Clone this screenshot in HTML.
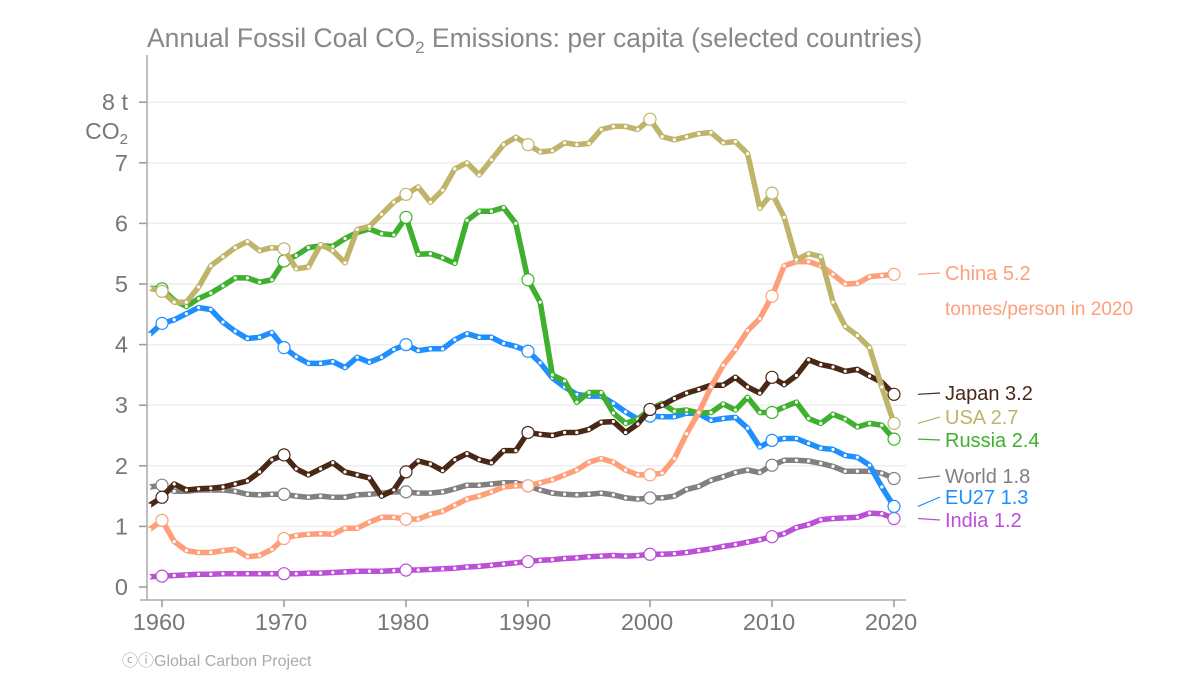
<!DOCTYPE html>
<html><head><meta charset="utf-8"><style>
body{margin:0;background:#fff;width:1200px;height:675px;overflow:hidden;font-family:"Liberation Sans",sans-serif}
</style></head><body>
<svg id="chart" width="1200" height="675" viewBox="0 0 1200 675" xmlns="http://www.w3.org/2000/svg" font-family="Liberation Sans, sans-serif">
<text x="147" y="47" font-size="26.5" fill="#888">Annual Fossil Coal CO<tspan font-size="17" dy="6">2</tspan><tspan dy="-6"> Emissions: per capita (selected countries)</tspan></text>
<g id="grid"></g>
<g id="axes"></g>
<g id="series"></g>
<g id="labels"></g>
<text x="122" y="666" font-size="16" fill="#aaa">ⓒⓘGlobal Carbon Project</text>
</svg>
<script>
const startYear = 1959;
const yTicks = [0,1,2,3,4,5,6,7,8];
const xTicks = [1960,1970,1980,1990,2000,2010,2020];
const usa = [4.93,4.88,4.7,4.7,4.95,5.3,5.45,5.6,5.7,5.55,5.6,5.58,5.25,5.28,5.65,5.55,5.35,5.9,5.95,6.15,6.35,6.48,6.6,6.35,6.55,6.9,7.0,6.8,7.05,7.3,7.42,7.3,7.18,7.2,7.33,7.3,7.32,7.55,7.6,7.6,7.55,7.72,7.43,7.38,7.43,7.48,7.5,7.33,7.35,7.15,6.25,6.5,6.1,5.4,5.5,5.45,4.7,4.3,4.15,3.95,3.3,2.7];
const russia = [4.93,4.92,4.73,4.63,4.76,4.85,4.97,5.1,5.1,5.03,5.07,5.38,5.47,5.6,5.63,5.62,5.75,5.85,5.91,5.83,5.81,6.1,5.49,5.5,5.43,5.34,6.05,6.2,6.2,6.26,6.0,5.07,4.7,3.5,3.4,3.05,3.21,3.21,2.87,2.7,2.77,2.93,3.03,2.9,2.92,2.87,2.88,3.02,2.92,3.13,2.88,2.88,2.97,3.05,2.78,2.7,2.85,2.77,2.64,2.7,2.67,2.44];
const eu27 = [4.17,4.35,4.41,4.51,4.61,4.58,4.37,4.22,4.1,4.12,4.2,3.95,3.8,3.69,3.69,3.72,3.62,3.79,3.71,3.79,3.92,4.0,3.9,3.93,3.93,4.08,4.18,4.12,4.12,4.02,3.97,3.89,3.7,3.45,3.3,3.18,3.15,3.15,3.03,2.89,2.77,2.82,2.81,2.81,2.87,2.86,2.75,2.78,2.8,2.62,2.31,2.42,2.45,2.45,2.37,2.29,2.27,2.17,2.14,2.01,1.65,1.33];
const japan = [1.35,1.48,1.7,1.6,1.62,1.63,1.65,1.7,1.75,1.9,2.1,2.18,1.95,1.85,1.95,2.05,1.9,1.85,1.8,1.5,1.6,1.9,2.08,2.03,1.92,2.1,2.2,2.1,2.05,2.25,2.25,2.55,2.52,2.5,2.55,2.55,2.6,2.72,2.73,2.55,2.69,2.93,3.0,3.11,3.2,3.26,3.33,3.33,3.46,3.3,3.2,3.46,3.34,3.49,3.75,3.67,3.63,3.56,3.59,3.48,3.38,3.18];
const china = [0.95,1.1,0.75,0.6,0.57,0.57,0.6,0.62,0.5,0.52,0.62,0.8,0.85,0.87,0.88,0.87,0.97,0.97,1.07,1.15,1.15,1.12,1.12,1.2,1.25,1.35,1.45,1.5,1.57,1.65,1.67,1.67,1.72,1.77,1.85,1.93,2.06,2.12,2.06,1.93,1.85,1.85,1.88,2.12,2.53,2.88,3.3,3.66,3.92,4.23,4.43,4.8,5.3,5.37,5.37,5.3,5.16,5.0,5.01,5.12,5.14,5.16];
const world = [1.65,1.68,1.58,1.58,1.6,1.6,1.6,1.58,1.53,1.52,1.53,1.53,1.5,1.48,1.5,1.48,1.48,1.52,1.53,1.55,1.57,1.57,1.55,1.55,1.57,1.62,1.68,1.68,1.7,1.72,1.72,1.67,1.6,1.55,1.53,1.52,1.53,1.55,1.52,1.47,1.45,1.47,1.47,1.5,1.61,1.66,1.76,1.82,1.89,1.93,1.89,2.01,2.09,2.09,2.08,2.04,1.99,1.91,1.91,1.91,1.88,1.79];
const india = [0.17,0.18,0.19,0.2,0.21,0.21,0.22,0.22,0.22,0.22,0.22,0.22,0.22,0.23,0.23,0.24,0.25,0.26,0.26,0.26,0.27,0.28,0.28,0.29,0.3,0.31,0.33,0.34,0.36,0.38,0.4,0.42,0.44,0.45,0.47,0.48,0.5,0.51,0.52,0.51,0.52,0.54,0.54,0.55,0.57,0.6,0.63,0.67,0.7,0.74,0.78,0.83,0.88,0.98,1.03,1.11,1.13,1.14,1.15,1.22,1.21,1.13];
const seriesNames = ["India","World","EU27","Russia","Japan","China","USA"];
const seriesLabels = ["India 1.2","World 1.8","EU27 1.3","Russia 2.4","Japan 3.2","China 5.2","USA 2.7"];
const seriesData = [india,world,eu27,russia,japan,china,usa];
const colors = ["#bb4fd6","#808080","#1e8fff","#3fb02e","#4a2816","#ff9f7a","#bfb46a"];
const labelY = [520,476,497,440,393,273,417];

const NS="http://www.w3.org/2000/svg";
const x = yr => 162 + 12.2*(yr-1960);
const y = v => 587 - 60.6*v;
function mk(tag, attrs, parent){const e=document.createElementNS(NS,tag);for(const k in attrs)e.setAttribute(k,attrs[k]);parent.appendChild(e);return e;}
const grid=document.getElementById('grid'), axes=document.getElementById('axes'), ser=document.getElementById('series'), lab=document.getElementById('labels');
yTicks.forEach(t=>{
  if(t>0){const g=mk('line',{x1:147,x2:906,y1:y(t),y2:y(t),stroke:'#eee','stroke-width':1.5},grid);
  
  }
  const tk=mk('line',{x1:139,x2:147,y1:y(t),y2:y(t),stroke:'#999','stroke-width':1.5},axes);
  
  
  const tx=mk('text',{x:128,y:y(t)+8,'text-anchor':'end','font-size':23.5,fill:'#777'},axes);
  tx.textContent = t===8 ? '8 t' : String(t);
  
  
});
const co=mk('text',{x:128,y:y(8)+37,'text-anchor':'end','font-size':23,fill:'#777'},axes);
co.innerHTML='CO<tspan font-size="15" dy="5">2</tspan>';


const ya=mk('line',{x1:147,x2:147,y1:55,y2:600,stroke:'#aaa','stroke-width':1.5},axes);


const xa=mk('line',{x1:140,x2:906,y1:600,y2:600,stroke:'#aaa','stroke-width':1.5},axes);


xTicks.forEach(t=>{
  const tk=mk('line',{x1:x(t),x2:x(t),y1:600,y2:607,stroke:'#999','stroke-width':1.5},axes);
  
  
  const tx=mk('text',{x:x(t)-3,y:630,'text-anchor':'middle','font-size':23.5,fill:'#777'},axes);
  tx.textContent=t;
  
  
});
seriesData.forEach((d,i)=>{
  const g=mk('g',{},ser);
  
  
  const pts=d.map((v,j)=>x(startYear+j).toFixed(1)+','+y(v).toFixed(1)).join(' ');
  const pl=mk('polyline',{points:pts,fill:'none',stroke:colors[i],'stroke-width':5.5,'stroke-linejoin':'round'},g);
  
  
  d.forEach((v,j)=>{
    const yr=startYear+j;
    if(yr%10===0||j===d.length-1){
      const c=mk('circle',{cx:x(yr),cy:y(v),r:6,fill:'#fff',stroke:colors[i],'stroke-width':1.2},g);
      
      
    } else {
      const c=mk('circle',{cx:x(yr),cy:y(v),r:1.6,fill:'#fff'},g);
      
      
    }
  });
  const last=d[d.length-1];
  const ln=mk('line',{x1:918,y1:y(last),x2:940,y2:labelY[i],stroke:colors[i],'stroke-width':1.2},lab);
  
  
  const t=mk('text',{x:945,y:labelY[i]+7,'font-size':20,fill:colors[i]},lab);
  t.textContent=seriesLabels[i];
  
  
});
const tp=mk('text',{x:945,y:315,'font-size':19,fill:'#ff9f7a'},lab);
tp.textContent='tonnes/person in 2020';


</script>
</body></html>
